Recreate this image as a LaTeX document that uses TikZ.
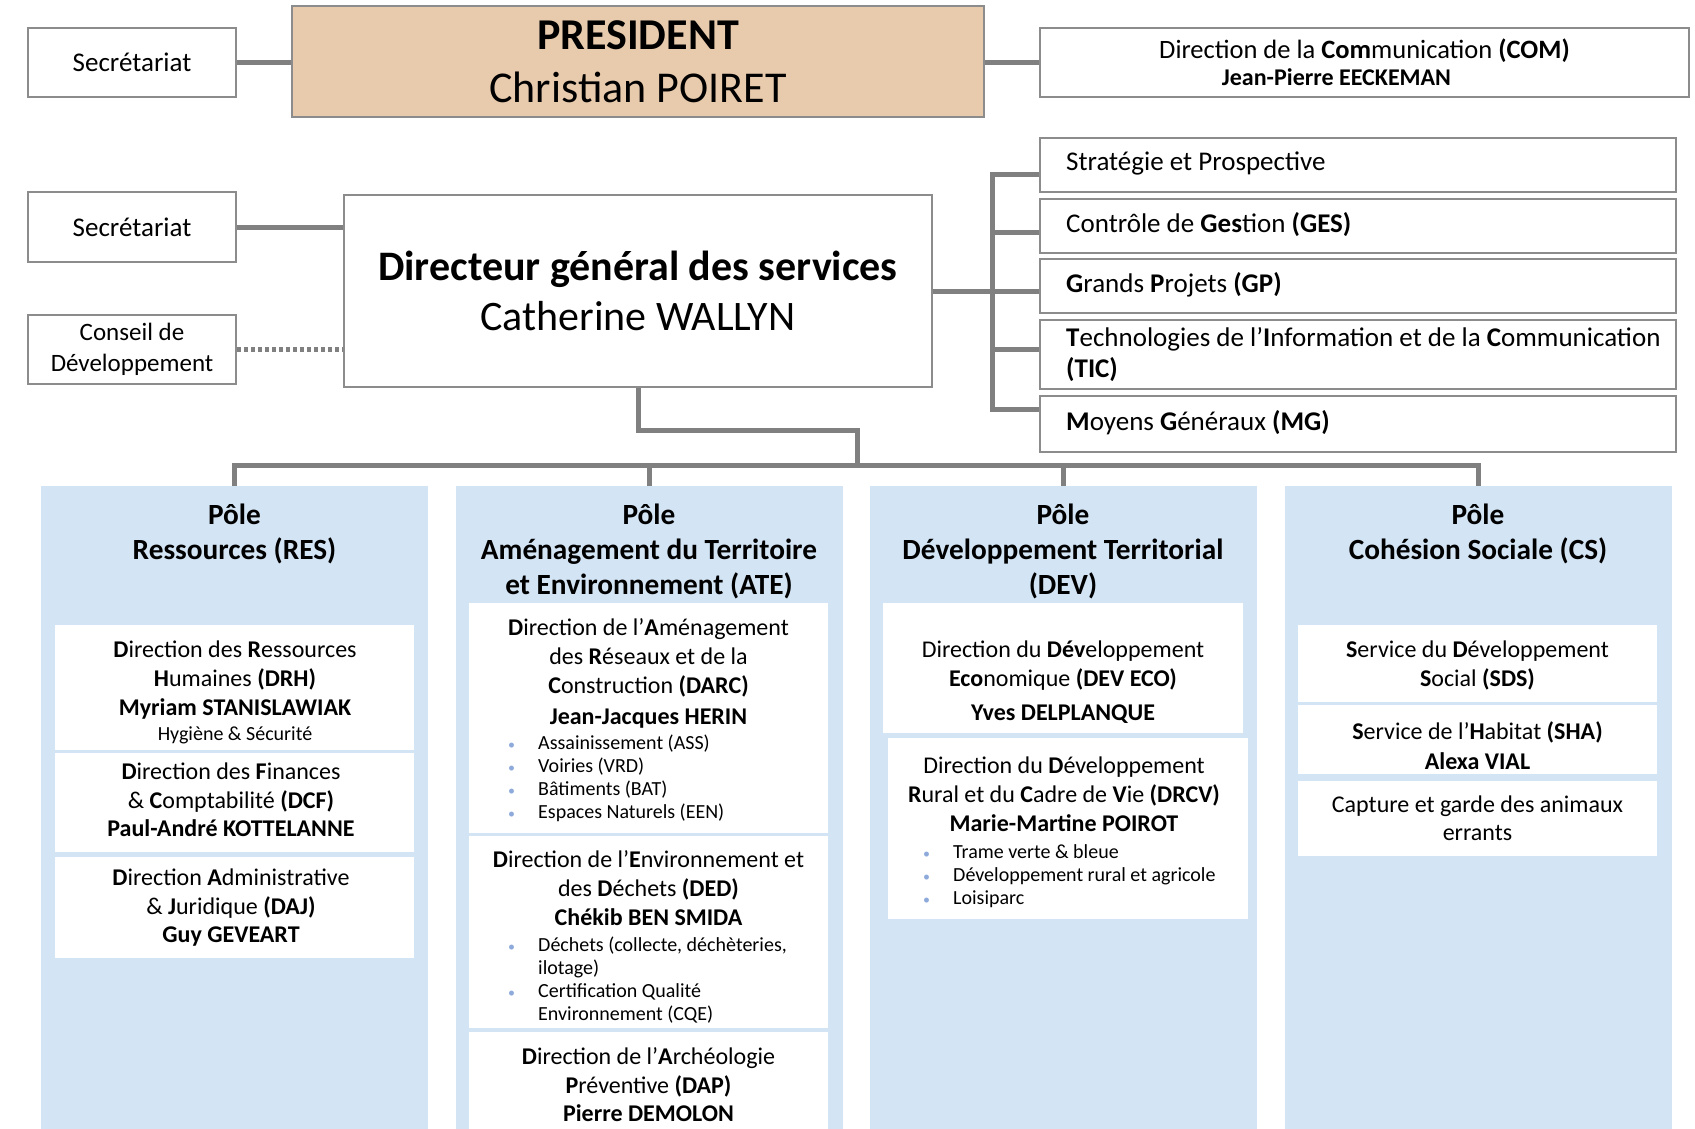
\documentclass[tikz,border=0pt]{standalone}
\usepackage{fontspec}
\setmainfont{Carlito}
\usetikzlibrary{positioning, calc}

\definecolor{linegray}{RGB}{128,128,128}
\definecolor{boxgray}{RGB}{140,140,140}
\definecolor{presfill}{RGB}{232,202,172}
\definecolor{polefill}{RGB}{211,228,244}
\definecolor{bulblue}{RGB}{142,170,219}

\newcommand{\bul}{\makebox[30pt][l]{\textcolor{bulblue}{\fontsize{14}{14}\selectfont\textbullet}}}
\newcommand{\ind}{\makebox[30pt][l]{}}

\tikzset{
    box/.style={draw=boxgray, line width=2.5pt, fill=white, inner sep=0pt, align=center},
    link/.style={draw=linegray, line width=5pt},
    dotlink/.style={link, dash pattern=on 4pt off 3pt},
    pole/.style={fill=polefill, inner sep=0pt, anchor=north, minimum width=387pt, minimum height=664pt},
    unit/.style={fill=white, inner sep=0pt, minimum width=359pt},
    poletitle/.style={anchor=base, align=center, inner sep=0pt, font=\bfseries\fontsize{29.3}{35}\selectfont},
    utext/.style={anchor=base, align=center, inner sep=0pt, font=\fontsize{24}{29}\selectfont},
    blist/.style={anchor=base west, align=left, inner sep=0pt, font=\fontsize{20}{23}\selectfont},
    rtext/.style={anchor=base west, align=left, inner sep=0pt, font=\fontsize{27}{31}\selectfont},
}

\begin{document}
\begin{tikzpicture}[x=1pt, y=-1pt]
            \useasboundingbox (0,0) rectangle (1695,1128);

            % President row
            \node[box, minimum width=208pt, minimum height=69pt, font=\fontsize{27}{31}\selectfont] (sec1) at (132,62.5) {Secrétariat};
            \node[box, fill=presfill, minimum width=692pt, minimum height=111pt, font=\fontsize{44}{53}\selectfont] (pres) at (638,61.5) {\textbf{PRESIDENT}\\Christian POIRET};
            \node[box, minimum width=649pt, minimum height=69pt, font=\fontsize{26.5}{27}\selectfont] (com) at (1364.5,62.5) {Direction de la \textbf{Com}munication \textbf{(COM)}\\{\bfseries\fontsize{24}{27}\selectfont Jean-Pierre EECKEMAN}\hspace*{56pt}};
            \draw[link] (sec1.east) -- (sec1.east -| pres.west);
            \draw[link] (pres.east |- com.west) -- (com.west);

            % DGS row
            \node[box, minimum width=208pt, minimum height=70pt, font=\fontsize{27}{31}\selectfont] (sec2) at (132,227) {Secrétariat};
            \node[box, minimum width=208pt, minimum height=69pt, font=\fontsize{25}{31}\selectfont] (cons) at (132,349.5) {Conseil de\\Développement};
            \node[box, minimum width=588pt, minimum height=192pt, font=\fontsize{42}{50}\selectfont] (dgs) at (638,291) {\textbf{Directeur général des services}\\Catherine WALLYN};
            \draw[link] (sec2.east) -- (sec2.east -| dgs.west);
            \draw[dotlink] (cons.east) -- (cons.east -| dgs.west);

            % Missions attached to the DGS
            \node[box, minimum width=636pt, minimum height=54pt] (strat) at (1358,165) {};
            \node[box, minimum width=636pt, minimum height=54pt] (ges) at (1358,226) {};
            \node[box, minimum width=636pt, minimum height=54pt] (gp) at (1358,286) {};
            \node[box, minimum width=636pt, minimum height=69pt] (tic) at (1358,354.5) {};
            \node[box, minimum width=636pt, minimum height=56pt] (mg) at (1358,424) {};
            \node[rtext] (strat-t) at (1066,170) {Stratégie et Prospective};
            \node[rtext] (ges-t) at (1066,232) {Contrôle de \textbf{Ges}tion \textbf{(GES)}};
            \node[rtext] (gp-t) at (1066,292) {\textbf{G}rands \textbf{P}rojets \textbf{(GP)}};
            \node[rtext] (tic-t) at (1066,377) {\textbf{T}echnologies de l’\textbf{I}nformation et de la \textbf{C}ommunication\\\textbf{(TIC)}};
            \node[rtext] (mg-t) at (1066,430) {\textbf{M}oyens \textbf{G}énéraux \textbf{(MG)}};

            \coordinate (brk) at (992,291);
            \draw[link] ([yshift=-9pt]strat.west) -| (brk) |- ([yshift=15pt]mg.west);
            \draw[link] (dgs.east) -- (brk);
            \foreach \b/\d in {ges/-6, gp/-5, tic/5}
                \draw[link] ([yshift=\d pt]\b.west) -- ++(-48,0);

            % Poles
            \node[pole] (res) at (234.5,486) {};
            \node[pole] (ate) at (649,486) {};
            \node[pole] (dev) at (1063,486) {};
            \node[pole] (cs) at (1478,486) {};

            \coordinate (knee) at (857,430);
            \coordinate (bus) at (857,465);
            \draw[link] (dgs.south) |- (knee) -- (bus);
            \draw[link] (res.north) |- (bus) -| (cs.north);
            \foreach \p in {ate, dev}
                \draw[link] (\p.north) -- (\p.north |- bus);

            % titles: anchor is the baseline of the last line
            \node[poletitle] (res-t) at (234.5,559) {Pôle\\Ressources (RES)};
            \node[poletitle] (ate-t) at (649,594) {Pôle\\Aménagement du Territoire\\et Environnement (ATE)};
            \node[poletitle] (dev-t) at (1063,594) {Pôle\\Développement Territorial\\(DEV)};
            \node[poletitle] (cs-t) at (1478,559) {Pôle\\Cohésion Sociale (CS)};

            % Pole RES
            \node[unit, minimum height=125pt] (drh) at (234.5,687.5) {};
            \node[unit, minimum height=99pt] (dcf) at (234.5,802.5) {};
            \node[unit, minimum height=101pt] (daj) at (234.5,907.5) {};
            \node[utext] (drh-t) at (235,740) {\textbf{D}irection des \textbf{R}essources\\\textbf{H}umaines \textbf{(DRH)}\\\textbf{Myriam STANISLAWIAK}\\[-4pt]{\fontsize{20}{23}\selectfont Hygiène \& Sécurité}};
            \node[utext] (dcf-t) at (231,836) {\textbf{D}irection des \textbf{F}inances\\\& \textbf{C}omptabilité \textbf{(DCF)}\\[-1pt]\textbf{Paul-André KOTTELANNE}};
            \node[utext] (daj-t) at (231,942) {\textbf{D}irection \textbf{A}dministrative\\\& \textbf{J}uridique \textbf{(DAJ)}\\[-1pt]\textbf{Guy GEVEART}};

            % Pole ATE
            \node[unit, minimum height=230pt] (darc) at (648.5,718) {};
            \node[unit, minimum height=192pt] (ded) at (648.5,932) {};
            \node[unit, minimum height=108pt] (dap) at (648.5,1086) {};
            \node[utext] (darc-t) at (648.5,724) {\textbf{D}irection de l’\textbf{A}ménagement\\des \textbf{R}éseaux et de la\\\textbf{C}onstruction \textbf{(DARC)}\\[2pt]\textbf{Jean-Jacques HERIN}};
            \node[blist] (darc-b) at (508,818) {\bul Assainissement (ASS)\\\bul Voiries (VRD)\\\bul Bâtiments (BAT)\\\bul Espaces Naturels (EEN)};
            \node[utext] (ded-t) at (648.5,925) {\textbf{D}irection de l’\textbf{E}nvironnement et\\des \textbf{D}échets \textbf{(DED)}\\\textbf{Chékib BEN SMIDA}};
            \node[blist] (ded-b) at (508,1020) {\bul Déchets (collecte, déchèteries,\\\ind ilotage)\\\bul Certification Qualité\\\ind Environnement (CQE)};
            \node[utext] (dap-t) at (648.5,1121) {\textbf{D}irection de l’\textbf{A}rchéologie\\\textbf{P}réventive \textbf{(DAP)}\\[-1pt]\textbf{Pierre DEMOLON}};

            % Pole DEV
            \node[unit, minimum width=360pt, minimum height=130pt] (deveco) at (1063,668) {};
            \node[unit, minimum width=360pt, minimum height=181pt] (drcv) at (1068,828.5) {};
            \node[utext] (deveco-t) at (1063,720) {Direction du \textbf{Dév}eloppement\\\textbf{Eco}nomique \textbf{(DEV ECO)}\\[5pt]\textbf{Yves DELPLANQUE}};
            \node[utext] (drcv-t) at (1064,831) {Direction du \textbf{D}éveloppement\\\textbf{R}ural et du \textbf{C}adre de \textbf{V}ie \textbf{(DRCV)}\\\textbf{Marie-Martine POIROT}};
            \node[blist] (drcv-b) at (923,904) {\bul Trame verte \& bleue\\\bul Développement rural et agricole\\\bul Loisiparc};

            % Pole CS
            \node[unit, minimum height=77pt] (sds) at (1477.5,663.5) {};
            \node[unit, minimum height=69pt] (sha) at (1477.5,739.5) {};
            \node[unit, minimum height=75pt] (cap) at (1477.5,818.5) {};
            \node[utext] (sds-t) at (1477.5,686) {\textbf{S}ervice du \textbf{D}éveloppement\\\textbf{S}ocial \textbf{(SDS)}};
            \node[utext] (sha-t) at (1477.5,769) {\textbf{S}ervice de l’\textbf{H}abitat \textbf{(SHA)}\\[1pt]\textbf{Alexa VIAL}};
            \node[utext] (cap-t) at (1477.5,840) {Capture et garde des animaux\\[-1pt]errants};
\end{tikzpicture}
\end{document}
